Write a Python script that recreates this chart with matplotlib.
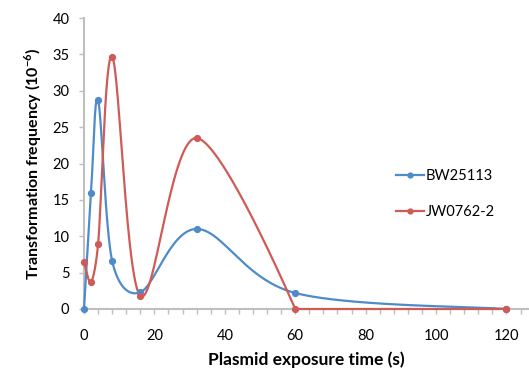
import numpy as np
import matplotlib
matplotlib.use("Agg")
import matplotlib.pyplot as plt
from matplotlib.lines import Line2D

times = [0, 2, 4, 8, 16, 32, 60, 120]
bw25113 = [0, 16.0, 28.7, 6.6, 2.3, 11.0, 2.2, 0]
jw0762 = [6.4, 3.7, 8.9, 34.7, 1.8, 23.5, 0, 0]
series_names = ["BW25113", "JW0762-2"]
colors = ["#4F8BC9", "#CF5B57"]
xticks = [0, 20, 40, 60, 80, 100, 120]
yticks = [0, 5, 10, 15, 20, 25, 30, 35, 40]

plt.rcParams['font.family'] = ['Lato', 'DejaVu Sans']

fig = plt.figure(figsize=(5.29, 3.71), dpi=100)
ax = fig.add_axes([84/529, 1-309/371, 1-84/529, (309-18)/371])
ax.set_xlim(0, 126.4)
ax.set_ylim(0, 40)


def excel_smooth(ax, xs, ys, n=80):
    pts = ax.transData.transform(np.column_stack([xs, ys]))
    P = np.vstack([pts[0], pts, pts[-1]])
    yv = list(ys)
    # arms are zero at points adjacent to a flat run
    flat = [False] * len(yv)
    for k in range(len(yv) - 1):
        if yv[k] == yv[k+1]:
            flat[k] = True
    out = []
    f = 1/6
    for i in range(1, len(P) - 2):
        p0, p1, p2, p3 = P[i-1], P[i], P[i+1], P[i+2]
        d12 = np.linalg.norm(p2 - p1)
        t1 = (p2 - p0) * f
        t2 = (p3 - p1) * f
        if np.linalg.norm(t1) > d12/2:
            t1 = t1 / np.linalg.norm(t1) * d12/2
        if np.linalg.norm(t2) > d12/2:
            t2 = t2 / np.linalg.norm(t2) * d12/2
        if flat[i-1]:
            t1 = t1 * 0
        if flat[i]:
            t2 = t2 * 0
        c1 = p1 + t1
        c2 = p2 - t2
        t = np.linspace(0, 1, n)[:, None]
        seg = ((1-t)**3)*p1 + 3*((1-t)**2)*t*c1 + 3*(1-t)*t**2*c2 + t**3*p2
        out.append(seg if i == 1 else seg[1:])
    curve = np.vstack(out)
    data = ax.transData.inverted().transform(curve)
    data[:, 1] = np.maximum(data[:, 1], ax.get_ylim()[0])
    return data[:, 0], data[:, 1]


for vals, c in zip([bw25113, jw0762], colors):
    cx, cy = excel_smooth(ax, times, vals)
    ax.plot(cx, cy, color=c, lw=1.6, clip_on=False, zorder=3)
    ax.plot(times, vals, 'o', color=c, ms=4.2, clip_on=False, zorder=4)

for s in ['top', 'right']:
    ax.spines[s].set_visible(False)
for s in ['left', 'bottom']:
    ax.spines[s].set_color('#BFBFBF')
    ax.spines[s].set_linewidth(1.5)

ax.set_xticks(xticks)
ax.set_xticks(np.arange(0, 126, 4), minor=True)
ax.set_yticks(yticks)
ax.tick_params(axis='x', which='both', direction='out', length=3.5, width=1, color='#BFBFBF',
               labelsize=10.5, pad=11)
ax.tick_params(axis='y', which='major', direction='out', length=3.5, width=1, color='#BFBFBF',
               labelsize=10.5, pad=7)

ax.set_xlabel("Plasmid exposure time (s)", fontsize=12.5, fontweight='bold', labelpad=6)
ax.set_ylabel(r"Transformation frequency (10$^{\mathregular{-6}}$)", fontsize=11.5,
              fontweight='bold', labelpad=6)

handles = [Line2D([0], [0], color=c, lw=1.6, marker='o', ms=3.5) for c in colors]
leg = fig.legend(handles, series_names, loc='upper left', bbox_to_anchor=(390/529, 1-163/371),
                 frameon=False, fontsize=10.5, handlelength=1.9, handletextpad=0.15,
                 labelspacing=1.55, borderaxespad=0)

fig.savefig("out.png", dpi=100)
